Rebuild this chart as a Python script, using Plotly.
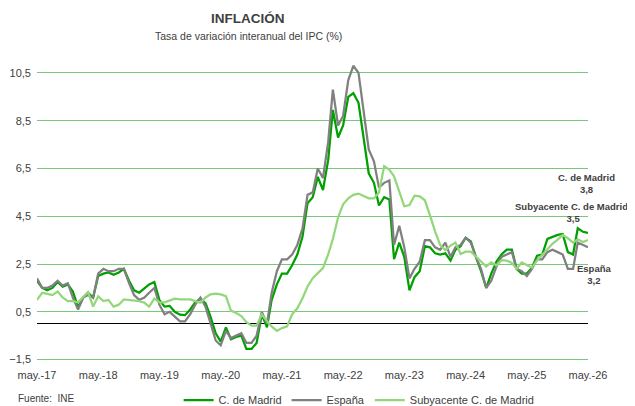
import pandas as pd
import plotly.graph_objects as go

# ---- data (monthly, May 2017 .. May 2026) ----
start_month = "2017-05-01"

madrid = [
    1.8, 1.5, 1.4, 1.5, 1.75, 1.55, 1.65, 1.35, 0.7, 1.1, 1.3, 1.1,
    2.0, 2.1, 2.15, 2.05, 2.15, 2.3, 1.8, 1.4, 1.3, 1.5, 1.65, 1.75,
    1.0, 0.72, 0.75, 0.5, 0.38, 0.36, 0.6, 0.9, 1.05, 0.85, 0.3, -0.4,
    -0.75, -0.15, -0.65, -0.55, -0.5, -1.05, -1.05, -0.8, 0.4, -0.15, 1.0, 1.65,
    2.1, 2.1, 2.45, 2.9, 3.65, 5.05, 5.3, 6.15, 5.6, 6.85, 8.95, 7.8,
    8.3, 9.5, 9.65, 9.25, 7.85, 6.3, 5.9, 4.95, 5.3, 5.2, 2.7, 3.4,
    2.8, 1.4, 1.95, 2.2, 3.25, 3.2, 2.95, 2.9, 2.95, 2.65, 3.1, 3.25,
    3.6, 3.45, 2.8, 2.2, 1.5, 2.1, 2.6, 2.9, 3.1, 3.1, 2.3, 2.1,
    2.1, 2.35, 2.85, 2.9, 3.55, 3.65, 3.72, 3.76, 3.0, 2.9, 4.0, 3.85, 3.8,
]

espana = [
    1.9, 1.5, 1.5, 1.6, 1.8, 1.6, 1.7, 1.1, 0.6, 1.1, 1.2, 1.1,
    2.1, 2.3, 2.2, 2.2, 2.3, 2.3, 1.7, 1.2, 1.0, 1.1, 1.3, 1.5,
    0.8, 0.4, 0.5, 0.3, 0.1, 0.1, 0.4, 0.8, 1.1, 0.7, 0.0, -0.7,
    -0.9, -0.3, -0.6, -0.5, -0.4, -0.8, -0.8, -0.5, 0.5, 0.0, 1.3, 2.2,
    2.7, 2.7, 2.9, 3.3, 4.0, 5.4, 5.5, 6.5, 6.1, 7.6, 9.8, 8.3,
    8.7, 10.2, 10.8, 10.5, 8.9, 7.3, 6.8, 5.7, 5.9, 6.0, 3.3, 4.1,
    3.2, 1.9, 2.3, 2.6, 3.5, 3.5, 3.2, 3.1, 3.4, 2.8, 3.2, 3.3,
    3.6, 3.4, 2.8, 2.3, 1.5, 1.8, 2.4, 2.8, 2.9, 3.0, 2.3, 2.2,
    2.0, 2.3, 2.7, 2.7, 3.0, 3.1, 3.0, 2.9, 2.3, 2.3, 3.4, 3.3, 3.2,
]

subyacente = [
    1.0, 1.3, 1.25, 1.2, 1.35, 1.1, 0.95, 0.95, 0.9, 1.15, 1.33, 0.72,
    1.15, 0.95, 1.0, 0.72, 0.8, 1.02, 1.0, 1.0, 0.95, 0.88, 0.72, 1.05,
    0.9, 0.9, 0.98, 1.05, 1.02, 1.02, 1.02, 0.95, 0.88, 1.1, 1.23, 1.26,
    1.23, 1.16, 0.55, 0.45, 0.32, 0.07, -0.08, -0.08, 0.39, 0.11, -0.11, -0.3,
    -0.18, -0.11, 0.4, 0.65, 1.07, 1.56, 1.91, 2.12, 2.33, 2.9, 3.55, 4.45,
    5.0, 5.25, 5.4, 5.45, 5.35, 5.25, 5.25, 5.5, 6.6, 6.45, 6.17, 5.55,
    4.92, 4.97, 5.36, 5.33, 5.17, 4.55, 3.86, 3.3, 3.08, 3.27, 3.4, 2.92,
    3.02, 3.02, 2.82, 2.65, 2.4, 2.57, 2.45, 2.66, 2.64, 2.55, 2.3, 2.57,
    2.45, 2.35, 2.65, 2.9, 3.15, 3.35, 3.52, 3.72, 3.58, 3.4, 3.54, 3.42, 3.5,
]

series_names = ["C. de Madrid", "España", "Subyacente C. de Madrid"]
x_tick_labels = ["may.-17", "may.-18", "may.-19", "may.-20", "may.-21",
                 "may.-22", "may.-23", "may.-24", "may.-25", "may.-26"]
y_tick_values = [-1.5, 0.5, 2.5, 4.5, 6.5, 8.5, 10.5]

dates = pd.date_range(start_month, periods=len(madrid), freq="MS")
x_tick_values = [d for d in dates if d.month == 5]

# ---- styling ----
FONT = "Liberation Sans, Arial, sans-serif"
TXT = "#404040"
colors = ["#00A000", "#808080", "#92D77A"]

fig = go.Figure()
for name, vals, col in zip(series_names, [madrid, espana, subyacente], colors):
    fig.add_trace(go.Scatter(x=dates, y=vals, mode="lines", name=name,
                             line=dict(color=col, width=2.25)))


def fmt(v):
    return f"{v:.1f}".replace(".", ",")


# the page body adds an 8px offset, so the figure is 8px smaller than the window
fig.update_layout(
    width=627, height=398,
    margin=dict(l=29, r=47, t=53, b=44, autoexpand=False),
    plot_bgcolor="white", paper_bgcolor="white",
    font=dict(family=FONT, size=11, color=TXT),
    separators=",.",
    showlegend=True,
    legend=dict(orientation="h", xref="container", yref="container",
                x=0.56, xanchor="center", y=0.015, yanchor="middle",
                font=dict(family=FONT, size=11, color=TXT), itemwidth=30,
                tracegroupgap=0, bgcolor="rgba(0,0,0,0)"),
    xaxis=dict(type="date", range=[dates[0], dates[-1]], automargin=False,
               tickmode="array", tickvals=x_tick_values, ticktext=x_tick_labels,
               showgrid=False, zeroline=False, showline=False,
               ticks="outside", ticklen=3, tickcolor="rgba(0,0,0,0)",
               tickfont=dict(size=11, color=TXT)),
    yaxis=dict(range=[-1.6, 11], tickmode="array", tickvals=y_tick_values,
               tickformat=".1f", showgrid=True, gridcolor="#78C878", gridwidth=1.3,
               zeroline=True, zerolinecolor="#000000", zerolinewidth=1.3,
               showline=False, ticks="", ticklabelstandoff=5, automargin=False,
               tickfont=dict(size=11, color=TXT)),
)

annots = [
    dict(text="<b>INFLACIÓN</b>", x=0.383, y=1.142, size=13.5),
    dict(text="Tasa de variación interanual del IPC (%)", x=0.383, y=1.083, size=10.5),
]
for a in annots:
    fig.add_annotation(text=a["text"], xref="paper", yref="paper", x=a["x"], y=a["y"],
                       xanchor="center", yanchor="middle", showarrow=False,
                       font=dict(family=FONT, size=a["size"], color=TXT))

fig.add_annotation(text="Fuente:  INE", xref="paper", yref="paper", x=-0.038, y=-0.12,
                   xanchor="left", yanchor="middle", showarrow=False,
                   font=dict(family=FONT, size=10, color=TXT))

# end-of-series labels
end_labels = [
    (f"C. de Madrid<br>{fmt(madrid[-1])}", 5.86, "center", -2),
    (f"Subyacente C. de Madrid;<br>{fmt(subyacente[-1])}", 4.67, "right", 45),
    (f"España<br>{fmt(espana[-1])}", 2.08, "center", 6),
]
for text, yv, anchor, xs in end_labels:
    fig.add_annotation(text=f"<b>{text}</b>", x=dates[-1], y=yv, xref="x", yref="y",
                       xanchor=anchor, yanchor="middle", xshift=xs, showarrow=False,
                       align="center", font=dict(family=FONT, size=9.5, color=TXT))

fig.write_html("out.html")
